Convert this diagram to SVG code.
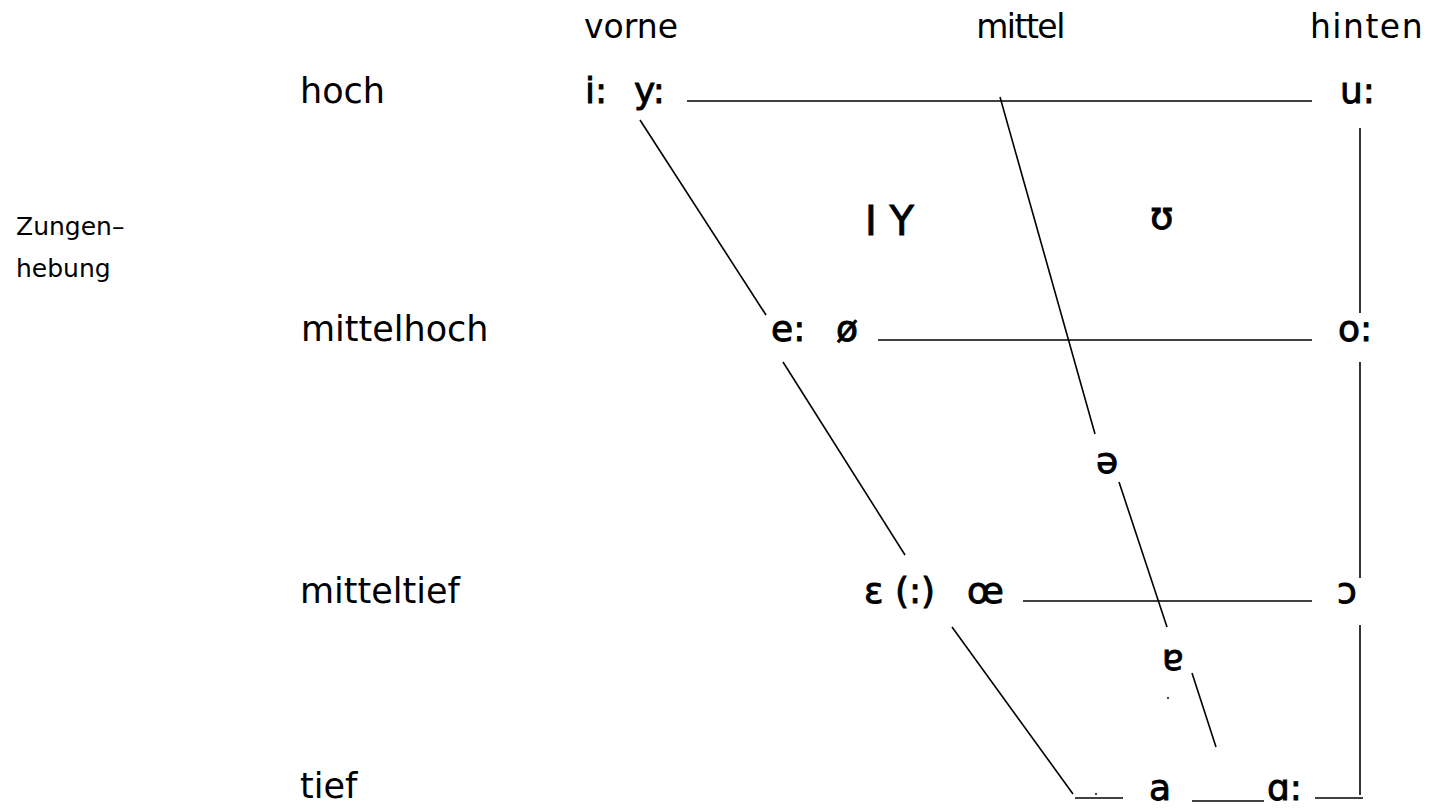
<svg xmlns="http://www.w3.org/2000/svg" width="1441" height="808" viewBox="0 0 1441 808">
<style>
text{font-family:"DejaVu Sans","Noto Sans",sans-serif;fill:#000}
.h{font-size:33px;text-anchor:middle}
.r{font-size:35px}
.v{font-size:36px;stroke:#000;stroke-width:0.9}
.s{font-size:25px}
.ln{stroke:#000;stroke-width:1.6;fill:none}
</style>
<rect width="1441" height="808" fill="#fff"/>
<g id="headers">
<text class="h" x="631" y="38">vorne</text>
<text class="h" x="1020" y="38" style="letter-spacing:-1.5px">mittel</text>
<text class="h" x="1367" y="38" style="letter-spacing:1.5px">hinten</text>
</g>
<g id="rows">
<text class="r" x="300" y="103">hoch</text>
<text class="r" x="301" y="341">mittelhoch</text>
<text class="r" x="300" y="603">mitteltief</text>
<text class="r" x="300" y="798">tief</text>
</g>
<g id="axis-label">
<text class="s" x="16" y="235">Zungen–</text>
<text class="s" x="16" y="277">hebung</text>
</g>
<g id="connectors">
<line class="ln" x1="687" y1="101" x2="1312" y2="101"/>
<line class="ln" x1="878" y1="340" x2="1312" y2="340"/>
<line class="ln" x1="1023" y1="601" x2="1312" y2="601"/>
<line class="ln" x1="640" y1="120" x2="766" y2="315"/>
<line class="ln" x1="783" y1="362" x2="905" y2="555"/>
<line class="ln" x1="952" y1="627" x2="1073" y2="794"/>
<line class="ln" x1="1075" y1="798" x2="1123" y2="798"/>
<line class="ln" x1="1192" y1="801" x2="1264" y2="801"/>
<line class="ln" x1="1315" y1="798" x2="1363" y2="798"/>
<line class="ln" x1="1000" y1="97" x2="1095" y2="434"/>
<line class="ln" x1="1119" y1="482" x2="1167" y2="627"/>
<line class="ln" x1="1192" y1="673" x2="1216" y2="747"/>
<line class="ln" x1="1360" y1="128" x2="1360" y2="313"/>
<line class="ln" x1="1360" y1="362" x2="1360" y2="578"/>
<line class="ln" x1="1360" y1="625" x2="1360" y2="795"/>
<circle cx="1096" cy="794" r="1" fill="#000"/>
<circle cx="1168" cy="698" r="1" fill="#000"/>
</g>
<g id="vowels">
<text class="v" x="585" y="103">i:</text>
<text class="v" x="634" y="103">y:</text>
<text class="v" x="1340" y="103">u:</text>
<text class="v" x="865" y="235" style="font-size:40px">I Y</text>
<text class="v" x="1150" y="229" style="font-size:38px">ʊ</text>
<text class="v" x="771" y="341">e:</text>
<text class="v" x="836" y="341">ø</text>
<text class="v" x="1338" y="341">o:</text>
<text class="v" x="1096" y="473">ə</text>
<text class="v" x="864" y="603">ɛ (:)</text>
<text class="v" x="967" y="603">œ</text>
<text class="v" x="1337" y="603">ɔ</text>
<text class="v" x="1162" y="670">ɐ</text>
<text class="v" x="1149" y="800">a</text>
<text class="v" x="1267" y="800">ɑ:</text>
</g>
</svg>
